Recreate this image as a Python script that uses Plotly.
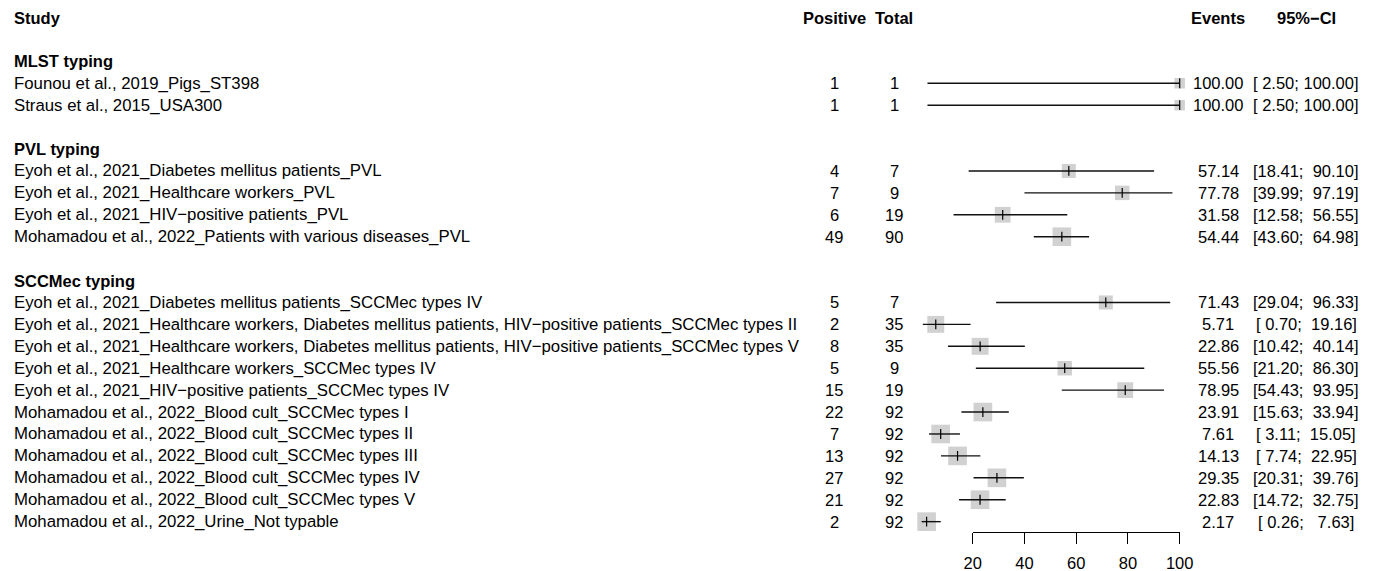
import math
import plotly.graph_objects as go

# ---- data -------------------------------------------------------------
groups = ["MLST typing", "PVL typing", "SCCMec typing"]

studies = [
    "Founou et al., 2019_Pigs_ST398",
    "Straus et al., 2015_USA300",
    "Eyoh et al., 2021_Diabetes mellitus patients_PVL",
    "Eyoh et al., 2021_Healthcare workers_PVL",
    "Eyoh et al., 2021_HIV\u2212positive patients_PVL",
    "Mohamadou et al., 2022_Patients with various diseases_PVL",
    "Eyoh et al., 2021_Diabetes mellitus patients_SCCMec types IV",
    "Eyoh et al., 2021_Healthcare workers, Diabetes mellitus patients, HIV\u2212positive patients_SCCMec types II",
    "Eyoh et al., 2021_Healthcare workers, Diabetes mellitus patients, HIV\u2212positive patients_SCCMec types V",
    "Eyoh et al., 2021_Healthcare workers_SCCMec types IV",
    "Eyoh et al., 2021_HIV\u2212positive patients_SCCMec types IV",
    "Mohamadou et al., 2022_Blood cult_SCCMec types I",
    "Mohamadou et al., 2022_Blood cult_SCCMec types II",
    "Mohamadou et al., 2022_Blood cult_SCCMec types III",
    "Mohamadou et al., 2022_Blood cult_SCCMec types IV",
    "Mohamadou et al., 2022_Blood cult_SCCMec types V",
    "Mohamadou et al., 2022_Urine_Not typable",
]
study_group = [0, 0, 1, 1, 1, 1, 2, 2, 2, 2, 2, 2, 2, 2, 2, 2, 2]

positive = [1, 1, 4, 7, 6, 49, 5, 2, 8, 5, 15, 22, 7, 13, 27, 21, 2]
total = [1, 1, 7, 9, 19, 90, 7, 35, 35, 9, 19, 92, 92, 92, 92, 92, 92]
events = [100.00, 100.00, 57.14, 77.78, 31.58, 54.44, 71.43, 5.71, 22.86,
          55.56, 78.95, 23.91, 7.61, 14.13, 29.35, 22.83, 2.17]
ci_lower = [2.50, 2.50, 18.41, 39.99, 12.58, 43.60, 29.04, 0.70, 10.42,
            21.20, 54.43, 15.63, 3.11, 7.74, 20.31, 14.72, 0.26]
ci_upper = [100.00, 100.00, 90.10, 97.19, 56.55, 64.98, 96.33, 19.16, 40.14,
            86.30, 93.95, 33.94, 15.05, 22.95, 39.76, 32.75, 7.63]

axis_ticks = [20, 40, 60, 80, 100]

# ---- page geometry ----------------------------------------------------
W, H = 1374, 571
ROW0, ROW_H = 17.5, 21.92          # pixel centre of header row, row pitch
PLOT_L, PLOT_R = 921.0, 1179.7      # pixels of 0 and 100 on the effect scale
AXIS_L = PLOT_L + (PLOT_R - PLOT_L) * axis_ticks[0] / 100
AXIS_Y = 532.0

COL_POS = 834     # centres of the text columns (pixels)
COL_TOT = 894
COL_EVT = 1218
COL_CI = 1306
STUDY_X = 13.5

FONT = "Liberation Sans, Arial, sans-serif"
FS = 16.5          # headings and numeric columns
FS_LAB = 16.8      # study labels

NB = "\u00a0"

# assign rows: header, blank, group label, studies, blank, ...
group_rows, study_rows = [], [None] * len(studies)
r = 2
for g in range(len(groups)):
    group_rows.append(r)
    r += 1
    for i, sg in enumerate(study_group):
        if sg == g:
            study_rows[i] = r
            r += 1
    r += 1


def px(x):
    return x / W


fig = go.Figure()

# weight boxes (size grows with sample size)
box_sizes = [10.5 + 1.8 * math.log(n) for n in total]
fig.add_trace(go.Scatter(
    x=events, y=study_rows, mode="markers", cliponaxis=False,
    marker=dict(symbol="square", size=box_sizes, color="#BDBDBD",
                line=dict(width=0)),
    hoverinfo="skip", showlegend=False))

# confidence interval lines
cx, cy = [], []
for lo, hi, row in zip(ci_lower, ci_upper, study_rows):
    cx += [lo, hi, None]
    cy += [row, row, None]
fig.add_trace(go.Scatter(
    x=cx, y=cy, mode="lines", cliponaxis=False,
    line=dict(color="#111111", width=1.4),
    hoverinfo="skip", showlegend=False))

# point estimate ticks
fig.add_trace(go.Scatter(
    x=events, y=study_rows, mode="markers", cliponaxis=False,
    marker=dict(symbol="line-ns", size=7,
                line=dict(width=1.2, color="#000000")),
    hoverinfo="skip", showlegend=False))

# carrier trace for the bottom scale
fig.add_trace(go.Scatter(
    x=[axis_ticks[0], axis_ticks[-1]], y=[None, None], xaxis="x2", yaxis="y",
    mode="markers", hoverinfo="skip", showlegend=False))

ann = []


def text(x, row, s, anchor="left", bold=False, size=FS):
    ann.append(dict(
        x=px(x), y=row, xref="paper", yref="y", xanchor=anchor,
        yanchor="middle", showarrow=False, borderpad=0, borderwidth=0,
        text=f"<b>{s}</b>" if bold else s,
        font=dict(family=FONT, size=size, color="#000000")))


# column headings
text(STUDY_X, 0, "Study", bold=True)
text(COL_POS, 0, "Positive", "center", True)
text(COL_TOT, 0, "Total", "center", True)
text(COL_EVT, 0, "Events", "center", True)
text(COL_CI, 0, "95%\u2212CI", "center", True)

for g, row in zip(groups, group_rows):
    text(STUDY_X, row, g, bold=True)


def ci_text(lo, hi):
    lo_s = f"{lo:.2f}".rjust(5).replace(" ", NB)
    hi_s = f"{hi:.2f}".rjust(6).replace(" ", NB)
    return f"[{lo_s};{NB}{hi_s}]"


for i, row in enumerate(study_rows):
    text(STUDY_X, row, studies[i], size=FS_LAB)
    text(COL_POS, row, str(positive[i]), "center")
    text(COL_TOT, row, str(total[i]), "center")
    text(COL_EVT, row, f"{events[i]:.2f}", "center")
    text(COL_CI, row, ci_text(ci_lower[i], ci_upper[i]), "center")

fig.update_layout(
    width=W, height=H,
    margin=dict(l=0, r=0, t=0, b=0, pad=0, autoexpand=False),
    paper_bgcolor="white", plot_bgcolor="rgba(0,0,0,0)",
    annotations=ann,
    xaxis=dict(domain=[px(PLOT_L), px(PLOT_R)], range=[0, 100],
               visible=False, fixedrange=True),
    xaxis2=dict(domain=[px(AXIS_L), px(PLOT_R)],
                range=[axis_ticks[0], axis_ticks[-1]],
                anchor="free", position=1 - AXIS_Y / H,
                showline=True, linecolor="#000000", linewidth=1.2,
                ticks="outside", ticklen=11, tickwidth=1.2,
                tickcolor="#000000", tickvals=axis_ticks,
                ticklabelstandoff=5,
                tickfont=dict(family=FONT, size=FS, color="#000000"),
                showgrid=False, zeroline=False, fixedrange=True),
    yaxis=dict(domain=[0, 1],
               range=[(H - ROW0) / ROW_H, -ROW0 / ROW_H],
               visible=False, fixedrange=True),
)

fig.write_html("out.html")
